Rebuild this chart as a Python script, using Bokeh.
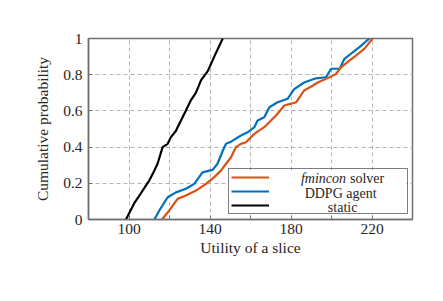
from bokeh.plotting import figure
from bokeh.models import (FixedTicker, Legend, LegendItem, Label, Range1d, BoxAnnotation)
from bokeh.embed import file_html
from bokeh.resources import INLINE

# ---- data ----
fmincon_x = [116.3, 119.9, 124.0, 128.1, 133.1, 138.0, 142.1, 145.4, 147.9, 150.4, 152.8, 155.3,
             157.8, 161.9, 164.0, 166.8, 169.5, 172.6, 176.7, 178.3, 182.6, 186.5, 190.0, 193.2,
             197.3, 202.2, 204.7, 208.8, 212.1, 216.2, 220.3]
fmincon_y = [0.0, 0.05, 0.114, 0.133, 0.16, 0.197, 0.234, 0.27, 0.308, 0.344, 0.40, 0.418,
             0.427, 0.473, 0.49, 0.51, 0.54, 0.575, 0.63, 0.635, 0.648, 0.713, 0.735, 0.757,
             0.777, 0.804, 0.841, 0.878, 0.906, 0.943, 1.0]

ddpg_x = [112.5, 115.0, 119.1, 123.2, 128.1, 132.2, 136.3, 141.3, 143.7, 146.3, 147.9, 150.4,
          155.3, 158.6, 161.9, 163.5, 166.8, 169.3, 173.4, 178.3, 181.6, 186.5, 192.3, 197.3,
          199.8, 204.0, 206.4, 210.5, 213.8, 218.7]
ddpg_y = [0.0, 0.05, 0.123, 0.15, 0.17, 0.197, 0.26, 0.274, 0.308, 0.38, 0.418, 0.43,
          0.464, 0.482, 0.51, 0.547, 0.565, 0.62, 0.648, 0.667, 0.72, 0.757, 0.78, 0.786,
          0.833, 0.833, 0.888, 0.924, 0.952, 1.0]

static_x = [98.5, 102.6, 105.9, 108.4, 110.0, 112.5, 114.1, 116.6, 119.1, 120.7, 123.2, 124.0,
            128.0, 130.6, 133.0, 135.6, 138.9, 142.1, 146.3]
static_y = [0.0, 0.09, 0.145, 0.188, 0.215, 0.27, 0.308, 0.40, 0.418, 0.455, 0.49, 0.51,
            0.60, 0.66, 0.70, 0.77, 0.82, 0.90, 1.0]

x_ticks = [80, 100, 120, 140, 160, 180, 200, 220, 240]
x_tick_labels = ["", "100", "", "140", "", "180", "", "220", ""]
y_ticks = [0, 0.2, 0.4, 0.6, 0.8, 1]
y_tick_labels = ["0", "0.2", "0.4", "0.6", "0.8", "1"]

series_names = ["fmincon", "DDPG agent", "static"]
colors = ["#D95319", "#0072BD", "#000000"]

FONT = "Liberation Serif"
TXT = "#262626"
AX = "#707070"

p = figure(width=435, height=293, output_backend="svg", toolbar_location=None,
           x_range=Range1d(80, 240), y_range=Range1d(0, 1),
           min_border_left=88, min_border_right=23, min_border_top=38, min_border_bottom=74,
           x_axis_label="Utility of a slice", y_axis_label="Cumulative probability")
p.background_fill_color = "white"
p.border_fill_color = "white"
p.outline_line_color = AX
p.outline_line_width = 1.5

for ax in (p.xaxis[0], p.yaxis[0]):
    ax.axis_line_color = AX
    ax.axis_line_width = 1.5
    ax.major_tick_line_color = AX
    ax.major_tick_in = 4
    ax.major_tick_out = 0
    ax.minor_tick_line_color = None
    ax.major_label_text_font = FONT
    ax.major_label_text_font_size = "15.5px"
    ax.major_label_text_color = TXT
    ax.axis_label_text_font = FONT
    ax.axis_label_text_font_size = "15.5px"
    ax.axis_label_text_font_style = "normal"
    ax.axis_label_text_color = TXT

p.xaxis[0].ticker = FixedTicker(ticks=x_ticks)
p.xaxis[0].major_label_overrides = dict(zip(x_ticks, x_tick_labels))
p.xaxis[0].major_label_standoff = 4
p.xaxis[0].axis_label_standoff = 2
p.yaxis[0].ticker = FixedTicker(ticks=y_ticks)
p.yaxis[0].major_label_overrides = dict(zip(y_ticks, y_tick_labels))
p.yaxis[0].major_label_standoff = 6
p.yaxis[0].axis_label_standoff = 9

p.xgrid.ticker = FixedTicker(ticks=x_ticks)
p.ygrid.ticker = FixedTicker(ticks=y_ticks)
for g in (p.xgrid[0], p.ygrid[0]):
    g.grid_line_color = "#b4b4b4"
    g.grid_line_dash = "4 3"
    g.grid_line_width = 1

# white backing for the legend area (legend itself is transparent so text shows)
p.add_layout(BoxAnnotation(left=149.1, right=237.0, bottom=0.028, top=0.271,
                           fill_color="white", fill_alpha=1, line_color=None,
                           level="glyph"))

r_s = p.line(static_x, static_y, line_color=colors[2], line_width=2.2)
r_d = p.line(ddpg_x, ddpg_y, line_color=colors[1], line_width=2.2)
r_f = p.line(fmincon_x, fmincon_y, line_color=colors[0], line_width=2.2)

legend = Legend(items=[LegendItem(label="", renderers=[r_f]),
                       LegendItem(label="", renderers=[r_d]),
                       LegendItem(label="", renderers=[r_s])],
                location=(140, 5), orientation="vertical",
                border_line_color="black", border_line_width=1.5,
                background_fill_alpha=0,
                padding=2, spacing=2, margin=0,
                glyph_width=38, glyph_height=12, label_height=12,
                label_width=136, label_standoff=0,
                label_text_font_size="10px")
p.add_layout(legend, "center")

lab_y = [0.2265, 0.145, 0.066]
common = dict(text_font=FONT, text_font_size="14px", text_color=TXT,
              text_baseline="middle")
p.add_layout(Label(x=207.2, y=lab_y[0], text=series_names[0], text_font_style="italic",
                   text_align="right", **common))
p.add_layout(Label(x=209.1, y=lab_y[0], text="solver", text_align="left", **common))
p.add_layout(Label(x=204.5, y=lab_y[1], text=series_names[1], text_align="center", **common))
p.add_layout(Label(x=205.5, y=lab_y[2], text=series_names[2], text_align="center", **common))

open("out.html", "w").write(file_html(p, INLINE))
